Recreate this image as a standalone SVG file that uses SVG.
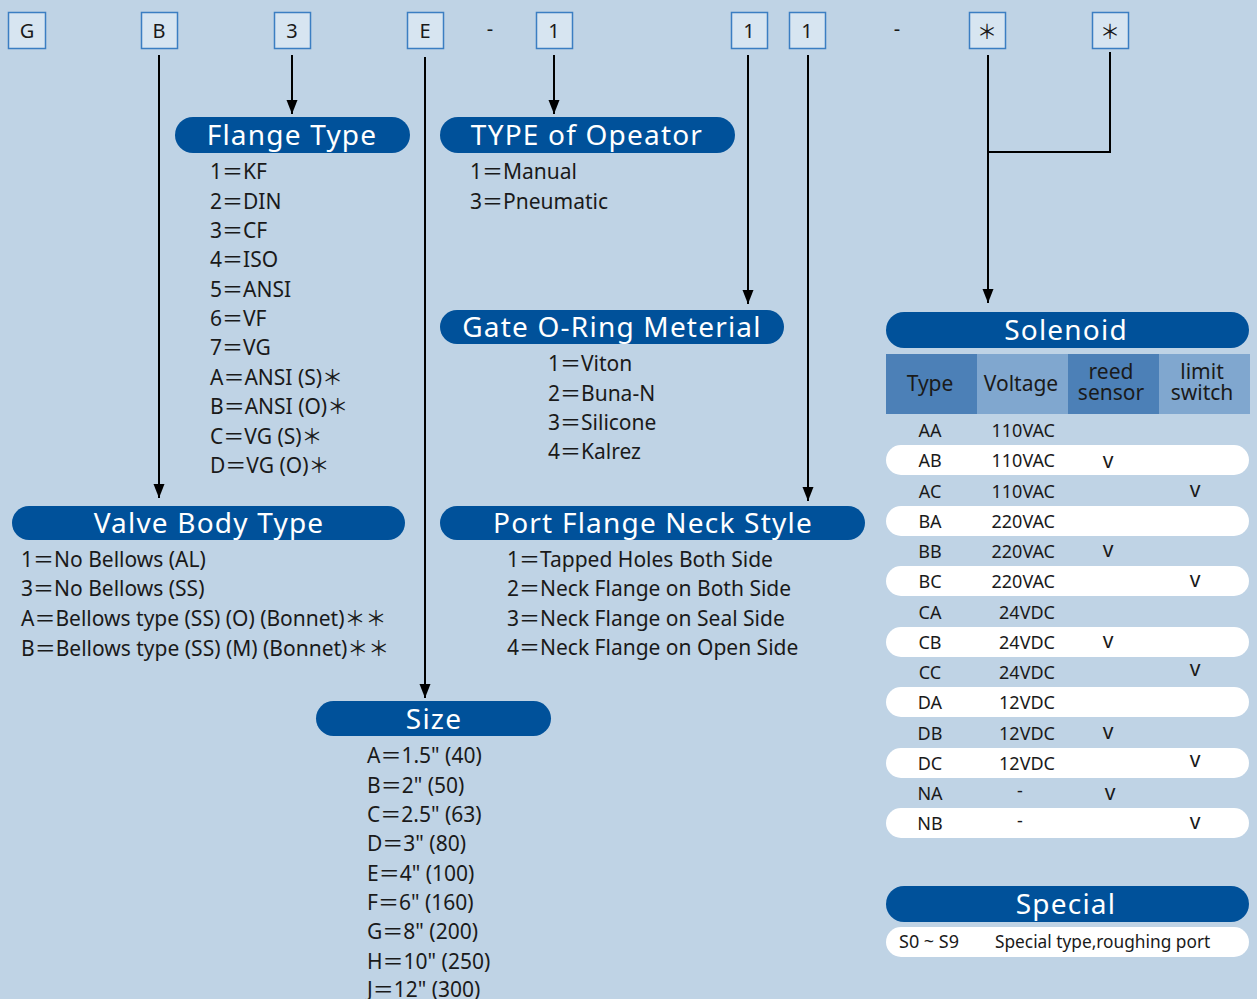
<svg xmlns="http://www.w3.org/2000/svg" width="1257" height="999" viewBox="0 0 1257 999">
<defs>
<style>
text{font-family:"Noto Sans","Noto Sans CJK JP",sans-serif;fill:#1a1a1a}
.code rect{fill:#d7e5f1;stroke:#3b7ec2;stroke-width:1.5}
.code text{font-size:20px;text-anchor:middle}
.pill{fill:#00519a}
.ttl{fill:#fff;font-size:28px;text-anchor:middle;letter-spacing:1.2px}
.li{font-size:21px}
.hd{font-size:21px;text-anchor:middle}
.tb{font-size:18px}
.ck{font-size:21px;text-anchor:middle}
.c{text-anchor:middle}
.r{text-anchor:end}
.row{fill:#fff}
.conn path{fill:none;stroke:#000;stroke-width:2}
</style>
<marker id="ah" viewBox="0 -6 14 12" refX="14" refY="0" markerWidth="14" markerHeight="12" markerUnits="userSpaceOnUse" orient="auto"><path d="M0,-5.5 L14,0 L0,5.5 z" fill="#000"/></marker>
</defs>
<rect width="1257" height="999" fill="#bfd3e5"/>

<g id="codes" class="code">
<g id="code-G"><rect x="8.5" y="12.5" width="37" height="36"/><text x="27" y="38">G</text></g>
<g id="code-B"><rect x="141.5" y="12.5" width="36" height="36"/><text x="159" y="38">B</text></g>
<g id="code-3"><rect x="274.5" y="12.5" width="36" height="36"/><text x="292" y="38">3</text></g>
<g id="code-E"><rect x="407.5" y="12.5" width="36" height="36"/><text x="425" y="38">E</text></g>
<text x="490" y="36">-</text>
<g id="code-1a"><rect x="536.5" y="12.5" width="36" height="36"/><text x="554" y="38">1</text></g>
<g id="code-1b"><rect x="731.5" y="12.5" width="36" height="36"/><text x="749" y="38">1</text></g>
<g id="code-1c"><rect x="789.5" y="12.5" width="36" height="36"/><text x="807" y="38">1</text></g>
<text x="897" y="36">-</text>
<g id="code-s1"><rect x="969.5" y="12.5" width="36" height="36"/><text x="987" y="39">＊</text></g>
<g id="code-s2"><rect x="1092.5" y="12.5" width="36" height="36"/><text x="1110" y="39">＊</text></g>
</g>

<g id="connectors" class="conn">
<path d="M159,55 V498" marker-end="url(#ah)"/>
<path d="M292,55 V114" marker-end="url(#ah)"/>
<path d="M425,57 V698" marker-end="url(#ah)"/>
<path d="M554,55 V114" marker-end="url(#ah)"/>
<path d="M748,55 V304" marker-end="url(#ah)"/>
<path d="M808,55 V501" marker-end="url(#ah)"/>
<path d="M988,55 V303" marker-end="url(#ah)"/>
<path d="M1110,52 V152 H988"/>
</g>

<g id="flange-type">
<rect class="pill" x="175" y="117" width="235" height="36" rx="18"/>
<text class="ttl" x="292" y="145">Flange Type</text>
<text class="li" x="210" y="179">1＝KF</text>
<text class="li" x="210" y="209">2＝DIN</text>
<text class="li" x="210" y="238">3＝CF</text>
<text class="li" x="210" y="267">4＝ISO</text>
<text class="li" x="210" y="297">5＝ANSI</text>
<text class="li" x="210" y="326">6＝VF</text>
<text class="li" x="210" y="355">7＝VG</text>
<text class="li" x="210" y="385">A＝ANSI (S)＊</text>
<text class="li" x="210" y="414">B＝ANSI (O)＊</text>
<text class="li" x="210" y="444">C＝VG (S)＊</text>
<text class="li" x="210" y="473">D＝VG (O)＊</text>
</g>

<g id="operator-type">
<rect class="pill" x="440" y="117" width="295" height="36" rx="18"/>
<text class="ttl" x="587" y="145">TYPE of Opeator</text>
<text class="li" x="470" y="179">1＝Manual</text>
<text class="li" x="470" y="209">3＝Pneumatic</text>
</g>

<g id="gate-oring">
<rect class="pill" x="440" y="310" width="344" height="34" rx="17"/>
<text class="ttl" x="612" y="337">Gate O-Ring Meterial</text>
<text class="li" x="548" y="371">1＝Viton</text>
<text class="li" x="548" y="401">2＝Buna-N</text>
<text class="li" x="548" y="430">3＝Silicone</text>
<text class="li" x="548" y="459">4＝Kalrez</text>
</g>

<g id="valve-body">
<rect class="pill" x="12" y="506" width="393" height="34" rx="17"/>
<text class="ttl" x="209" y="533">Valve Body Type</text>
<text class="li" x="21" y="567">1＝No Bellows (AL)</text>
<text class="li" x="21" y="596">3＝No Bellows (SS)</text>
<text class="li" x="21" y="626">A＝Bellows type (SS) (O) (Bonnet)＊＊</text>
<text class="li" x="21" y="656">B＝Bellows type (SS) (M) (Bonnet)＊＊</text>
</g>

<g id="port-flange">
<rect class="pill" x="440" y="506" width="425" height="34" rx="17"/>
<text class="ttl" x="653" y="533">Port Flange Neck Style</text>
<text class="li" x="507" y="567">1＝Tapped Holes Both Side</text>
<text class="li" x="507" y="596">2＝Neck Flange on Both Side</text>
<text class="li" x="507" y="626">3＝Neck Flange on Seal Side</text>
<text class="li" x="507" y="655">4＝Neck Flange on Open Side</text>
</g>

<g id="size">
<rect class="pill" x="316" y="701" width="235" height="35" rx="17.5"/>
<text class="ttl" x="434" y="729">Size</text>
<text class="li" x="367" y="763">A＝1.5" (40)</text>
<text class="li" x="367" y="793">B＝2" (50)</text>
<text class="li" x="367" y="822">C＝2.5" (63)</text>
<text class="li" x="367" y="851">D＝3" (80)</text>
<text class="li" x="367" y="881">E＝4" (100)</text>
<text class="li" x="367" y="910">F＝6" (160)</text>
<text class="li" x="367" y="939">G＝8" (200)</text>
<text class="li" x="367" y="969">H＝10" (250)</text>
<text class="li" x="367" y="997">J＝12" (300)</text>
</g>

<g id="solenoid">
<rect class="pill" x="886" y="312" width="363" height="36" rx="18"/>
<text class="ttl" x="1066" y="340">Solenoid</text>
<rect x="886" y="354" width="91" height="60" fill="#4c80b7"/>
<rect x="977" y="354" width="91" height="60" fill="#80a7cf"/>
<rect x="1068" y="354" width="91" height="60" fill="#4c80b7"/>
<rect x="1159" y="354" width="91" height="60" fill="#80a7cf"/>
<text class="hd" x="930" y="391">Type</text>
<text class="hd" x="1021" y="391">Voltage</text>
<text class="hd" y="379"><tspan x="1111">reed</tspan><tspan x="1111" dy="21">sensor</tspan></text>
<text class="hd" y="379"><tspan x="1202">limit</tspan><tspan x="1202" dy="21">switch</tspan></text>
<rect class="row" x="886" y="445" width="363" height="30" rx="15"/>
<rect class="row" x="886" y="506" width="363" height="30" rx="15"/>
<rect class="row" x="886" y="566" width="363" height="30" rx="15"/>
<rect class="row" x="886" y="627" width="363" height="30" rx="15"/>
<rect class="row" x="886" y="687" width="363" height="30" rx="15"/>
<rect class="row" x="886" y="748" width="363" height="30" rx="15"/>
<rect class="row" x="886" y="808" width="363" height="30" rx="15"/>
<g class="tb">
<text class="c" x="930" y="437">AA</text><text class="r" x="1055" y="437">110VAC</text>
<text class="c" x="930" y="467">AB</text><text class="r" x="1055" y="467">110VAC</text><text class="ck" x="1108" y="468">v</text>
<text class="c" x="930" y="498">AC</text><text class="r" x="1055" y="498">110VAC</text><text class="ck" x="1195" y="497">v</text>
<text class="c" x="930" y="528">BA</text><text class="r" x="1055" y="528">220VAC</text>
<text class="c" x="930" y="558">BB</text><text class="r" x="1055" y="558">220VAC</text><text class="ck" x="1108" y="557">v</text>
<text class="c" x="930" y="588">BC</text><text class="r" x="1055" y="588">220VAC</text><text class="ck" x="1195" y="587">v</text>
<text class="c" x="930" y="619">CA</text><text class="r" x="1055" y="619">24VDC</text>
<text class="c" x="930" y="649">CB</text><text class="r" x="1055" y="649">24VDC</text><text class="ck" x="1108" y="648">v</text>
<text class="c" x="930" y="679">CC</text><text class="r" x="1055" y="679">24VDC</text><text class="ck" x="1195" y="676">v</text>
<text class="c" x="930" y="709">DA</text><text class="r" x="1055" y="709">12VDC</text>
<text class="c" x="930" y="740">DB</text><text class="r" x="1055" y="740">12VDC</text><text class="ck" x="1108" y="739">v</text>
<text class="c" x="930" y="770">DC</text><text class="r" x="1055" y="770">12VDC</text><text class="ck" x="1195" y="767">v</text>
<text class="c" x="930" y="800">NA</text><text class="c" x="1020" y="797">-</text><text class="ck" x="1110" y="800">v</text>
<text class="c" x="930" y="830">NB</text><text class="c" x="1020" y="827">-</text><text class="ck" x="1195" y="829">v</text>
</g>
</g>

<g id="special">
<rect class="pill" x="886" y="886" width="363" height="36" rx="18"/>
<text class="ttl" x="1066" y="914">Special</text>
<rect class="row" x="886" y="927" width="363" height="30" rx="15"/>
<text class="tb" x="899" y="948">S0 ~ S9</text>
<text class="tb" x="995" y="948" style="font-size:17.3px">Special type,roughing port</text>
</g>
</svg>
